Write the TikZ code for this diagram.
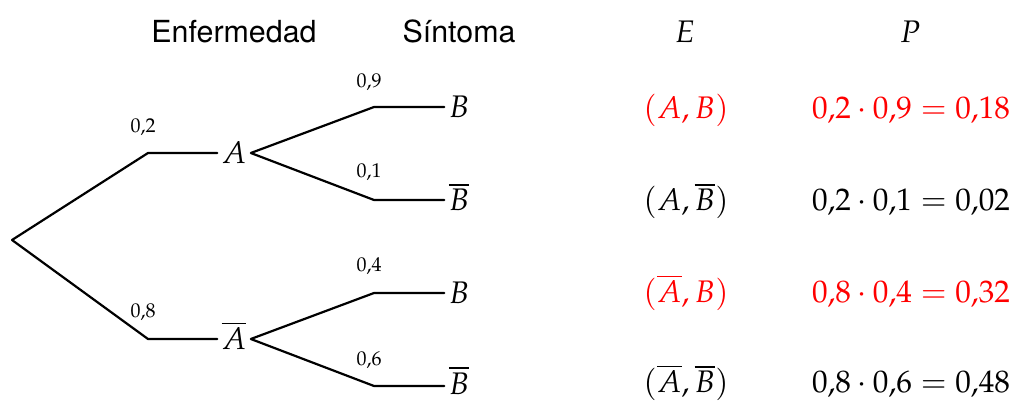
\documentclass[tikz,border=0pt]{standalone}
\usepackage{mathpazo}
\usepackage[no-math]{fontspec}
\newfontfamily\headfont{TeX Gyre Heros}
\tikzset{
  prob/.style={font=\fontsize{10}{12}\selectfont,inner sep=0pt,anchor=base},
  leaf/.style={inner sep=2pt,anchor=base},
  res/.style={inner sep=0pt,anchor=base},
  head/.style={font=\fontsize{15.2}{18}\selectfont\headfont,inner sep=0pt,anchor=base},
  branch/.style={line width=1.1pt}
}
\begin{document}
\begin{tikzpicture}[x=0.5pt,y=-0.5pt,line cap=round,line join=round,font=\fontsize{15.6}{19}\selectfont]
    \useasboundingbox (0,0) rectangle (1014,401);
    % titles
    \node[head] (h1) at (234,43) {Enfermedad};
    \node[head] (h2) at (459,43) {Síntoma};
    \node[res] (h3) at (685,43) {$E$};
    \node[res] (h4) at (910,43) {$P$};
    % knots of the tree
    \path (12,240)coordinate(root) (148,153)coordinate(k1) (148,339)coordinate(k2)
          (374,107)coordinate(k3) (374,200)coordinate(k4) (374,293)coordinate(k5) (374,386)coordinate(k6);
    \node[leaf] (A) at (234,164) {$A$};
    \node[leaf] (nA) at (234,350) {$\overline{A}$};
    \node[leaf] (B1) at (459,118) {$B$};
    \node[leaf] (B2) at (459,211) {$\overline{B}$};
    \node[leaf] (B3) at (459,304) {$B$};
    \node[leaf] (B4) at (459,394) {$\overline{B}$};
    % probabilities
    \node[prob] (q1) at (143,133) {$0{,}2$};
    \node[prob] (q2) at (143,318) {$0{,}8$};
    \node[prob] (q3) at (369,88) {$0{,}9$};
    \node[prob] (q4) at (369,178) {$0{,}1$};
    \node[prob] (q5) at (369,272) {$0{,}4$};
    \node[prob] (q6) at (369,365) {$0{,}6$};
    \draw[branch] (root)--(k1)--(k1-|A.west)  (root)--(k2)--(k2-|nA.west);
    \draw[branch] (A.east|-k1)--(k3)--(k3-|B1.west)  (A.east|-k1)--(k4)--(k4-|B2.west);
    \draw[branch] (nA.east|-k2)--(k5)--(k5-|B3.west)  (nA.east|-k2)--(k6)--(k6-|B4.west);
    % results
    \node[res,red] (e1) at (686,119) {$(A,B)$};
    \node[res] (e2) at (686,211) {$(A,\overline{B})$};
    \node[res,red] (e3) at (686,303) {$(\overline{A},B)$};
    \node[res] (e4) at (686,393) {$(\overline{A},\overline{B})$};
    \node[res,red] (p1) at (911,119) {$0{,}2\cdot 0{,}9=0{,}18$};
    \node[res] (p2) at (911,211) {$0{,}2\cdot 0{,}1=0{,}02$};
    \node[res,red] (p3) at (911,303) {$0{,}8\cdot 0{,}4=0{,}32$};
    \node[res] (p4) at (911,393) {$0{,}8\cdot 0{,}6=0{,}48$};
\end{tikzpicture}
\end{document}
